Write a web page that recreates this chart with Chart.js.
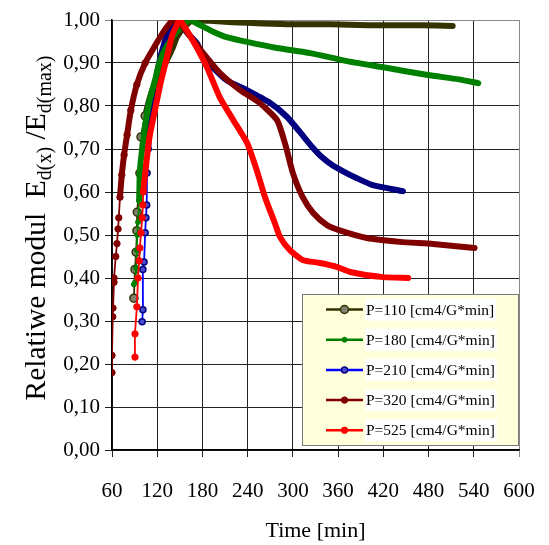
<!DOCTYPE html>
<html>
<head>
<meta charset="utf-8">
<script src="https://cdn.jsdelivr.net/npm/chart.js@4.4.0/dist/chart.umd.min.js"></script>
<style>
  html, body { margin: 0; padding: 0; background: #fff; }
  #chart { display: block; }
</style>
</head>
<body>
<canvas id="chart" width="549" height="545"></canvas>
<script>
// data (time in min, relative modulus)
const seriesLabels = ["P=110 [cm4/G*min]", "P=180 [cm4/G*min]", "P=210 [cm4/G*min]", "P=320 [cm4/G*min]", "P=525 [cm4/G*min]"];

const time110 = [89, 90.5, 92, 93, 93.5, 97, 98.5, 104, 112, 122, 133, 141, 146, 154, 167, 190, 220, 260, 300, 350, 400, 450, 490, 512];
const val110 = [0.353, 0.42, 0.46, 0.51, 0.553, 0.644, 0.728, 0.777, 0.83, 0.87, 0.907, 0.937, 0.96, 0.98, 1.0, 0.998, 0.995, 0.992, 0.99, 0.99, 0.988, 0.988, 0.987, 0.986];

const time180 = [89, 90.5, 92, 93, 93.5, 94.5, 96, 97, 100, 105, 110, 117, 124, 133, 148, 163, 175, 195, 212, 239, 279, 323, 370, 420, 479, 520, 546];
const val180 = [0.385, 0.39, 0.423, 0.465, 0.50, 0.53, 0.58, 0.65, 0.70, 0.767, 0.814, 0.86, 0.907, 0.94, 0.977, 1.0, 0.99, 0.972, 0.96, 0.949, 0.935, 0.923, 0.905, 0.89, 0.872, 0.862, 0.853];

const time210 = [100, 101, 101, 102.5, 104, 105, 106, 106.5, 108, 110, 120, 130, 140, 147, 160, 173, 181, 212, 239, 270, 292, 310, 325, 338, 352, 368, 385, 406, 446];
const val210 = [0.298, 0.326, 0.42, 0.437, 0.505, 0.54, 0.57, 0.644, 0.70, 0.767, 0.88, 0.95, 0.99, 1.0, 0.97, 0.945, 0.914, 0.86, 0.837, 0.807, 0.775, 0.738, 0.706, 0.682, 0.663, 0.647, 0.632, 0.616, 0.602];

const time320 = [60, 60, 61, 61.3, 62.7, 62.7, 65, 66.6, 68, 69, 70.6, 73, 76, 80, 85, 93, 104, 117, 130, 140, 147, 160, 181, 203, 230, 256, 279, 290, 300, 313, 327, 345, 360, 398, 442, 486, 541];
const val320 = [0.18, 0.22, 0.31, 0.33, 0.39, 0.40, 0.45, 0.48, 0.514, 0.54, 0.588, 0.64, 0.686, 0.733, 0.79, 0.85, 0.90, 0.94, 0.977, 0.998, 1.0, 0.97, 0.923, 0.877, 0.837, 0.807, 0.767, 0.71, 0.644, 0.588, 0.551, 0.523, 0.512, 0.493, 0.484, 0.479, 0.47];

const time525 = [90.5, 90.5, 93, 94.5, 96, 97, 98.5, 100, 101, 101.5, 106, 110, 117, 124, 132, 140, 148, 150, 167, 186, 203, 221, 239, 252, 263, 276, 283, 296, 313, 336, 358, 376, 420, 453];
const val525 = [0.216, 0.27, 0.333, 0.40, 0.44, 0.47, 0.505, 0.54, 0.57, 0.6, 0.674, 0.73, 0.79, 0.85, 0.907, 0.965, 0.995, 1.0, 0.953, 0.89, 0.82, 0.767, 0.715, 0.651, 0.588, 0.528, 0.495, 0.465, 0.442, 0.435, 0.426, 0.414, 0.402, 0.40];

const timeTicks = [60, 120, 180, 240, 300, 360, 420, 480, 540, 600];

const serif = "'Liberation Serif', 'Times New Roman', serif";

// one line series: thin line + markers at the sparse start, thick line after
function makeSeries(label, xs, ys, st) {
  return {
    label: label,
    data: xs.map((x, i) => ({ x: x, y: ys[i] })),
    borderColor: st.line,
    backgroundColor: st.fill,
    pointBackgroundColor: st.fill,
    pointBorderColor: st.edge,
    pointBorderWidth: st.edgeW,
    pointRadius: (c) => (c.dataIndex < st.markUntil ? st.r : 0),
    pointHoverRadius: 0,
    borderCapStyle: "round",
    borderJoinStyle: "round",
    tension: 0.2,
    order: st.order,
    mark: st,
    segment: {
      borderWidth: (c) => (c.p1DataIndex <= st.thinUntil ? 1.8 : 6),
      borderColor: (c) => (c.p1DataIndex <= st.thinUntil ? st.line : st.thick),
    },
  };
}

const datasets = [
  makeSeries(seriesLabels[0], time110, val110, { line: "#333300", thick: "#333300", fill: "#808070", edge: "#333300", edgeW: 1.5, r: 4, thinUntil: 7, markUntil: 8, order: 3 }),
  makeSeries(seriesLabels[1], time180, val180, { line: "#008000", thick: "#008000", fill: "#008000", edge: "#008000", edgeW: 1, r: 2.5, thinUntil: 6, markUntil: 7, order: 2 }),
  makeSeries(seriesLabels[2], time210, val210, { line: "#0000ff", thick: "#000080", fill: "#4b4bd0", edge: "#000080", edgeW: 1.5, r: 3, thinUntil: 8, markUntil: 9, order: 4 }),
  makeSeries(seriesLabels[3], time320, val320, { line: "#800000", thick: "#800000", fill: "#800000", edge: "#800000", edgeW: 1, r: 3.2, thinUntil: 10, markUntil: 17, order: 1 }),
  makeSeries(seriesLabels[4], time525, val525, { line: "#ff0000", thick: "#ff0000", fill: "#ff0000", edge: "#ff0000", edgeW: 1, r: 3.2, thinUntil: 9, markUntil: 10, order: 0 }),
];

// rotated y title with subscripts
const yTitle = {
  id: "yTitle",
  afterDraw(chart) {
    const c = chart.ctx;
    const parts = [
      ["Relatiwe modul  ", 0],
      ["E", 0], ["d(x)", 1],
      [" /E", 0], ["d(max)", 1],
    ];
    const big = "29.5px " + serif, small = "20px " + serif;
    let total = 0;
    const widths = parts.map((p) => {
      c.font = p[1] ? small : big;
      const w = c.measureText(p[0]).width;
      total += w;
      return w;
    });
    c.save();
    c.translate(45, 228);
    c.rotate(-Math.PI / 2);
    c.fillStyle = "#000";
    c.textBaseline = "alphabetic";
    c.textAlign = "left";
    let x = -total / 2;
    parts.forEach((p, i) => {
      c.font = p[1] ? small : big;
      c.fillText(p[0], x, p[1] ? 6 : 0);
      x += widths[i];
    });
    c.restore();
  },
};

// boxed legend inside the plot, line + marker per row
const boxLegend = {
  id: "boxLegend",
  afterDraw(chart) {
    const c = chart.ctx;
    c.save();
    c.fillStyle = "#ffffdc";
    c.fillRect(302, 294, 216, 151);
    c.strokeStyle = "#7a7a7a";
    c.lineWidth = 1;
    c.strokeRect(302.5, 294.5, 216, 151);
    c.font = "15.5px " + serif;
    c.textBaseline = "middle";
    chart.data.datasets.forEach((ds, i) => {
      const st = ds.mark;
      const y = 309.5 + i * 30.2;
      const tw = c.measureText(ds.label).width;
      c.fillStyle = "#fff";
      c.fillRect(365, y - 11, tw + 3, 22);
      c.strokeStyle = st.line;
      c.lineWidth = 2.5;
      c.beginPath();
      c.moveTo(326, y);
      c.lineTo(363, y);
      c.stroke();
      c.beginPath();
      c.arc(344.5, y, st.r, 0, Math.PI * 2);
      c.fillStyle = st.fill;
      c.fill();
      c.lineWidth = st.edgeW;
      c.strokeStyle = st.edge;
      c.stroke();
      c.fillStyle = "#000";
      c.fillText(ds.label, 366, y + 1);
    });
    c.restore();
  },
};

new Chart(document.getElementById("chart"), {
  type: "line",
  data: { datasets: datasets },
  options: {
    responsive: false,
    animation: false,
    devicePixelRatio: 1,
    layout: { padding: { top: 20, right: 30, left: 0, bottom: 0 } },
    plugins: { legend: { display: false }, tooltip: { enabled: false } },
    scales: {
      x: {
        type: "linear",
        min: 60,
        max: 600,
        afterBuildTicks: (s) => { s.ticks = timeTicks.map((v) => ({ value: v })); },
        afterFit: (s) => { s.height = 95; s.paddingLeft = 0; s.paddingRight = 0; },
        ticks: { color: "#000", font: { family: serif, size: 21 }, padding: 22, maxRotation: 0 },
        grid: {
          color: (c) => (c.tick && c.tick.value === 600 ? "#888" : "#222"),
          lineWidth: 1,
          tickLength: 7,
        },
        border: { color: "#000", width: 1.5 },
        title: {
          display: true,
          text: "Time [min]",
          color: "#000",
          font: { family: serif, size: 22 },
          padding: { top: 0, bottom: 1 },
        },
      },
      y: {
        min: 0,
        max: 1,
        afterFit: (s) => { s.width = 112; },
        ticks: {
          stepSize: 0.1,
          color: "#000",
          font: { family: serif, size: 21 },
          padding: 5,
          callback: (v) => v.toFixed(2).replace(".", ","),
        },
        grid: {
          color: (c) => (c.tick && c.tick.value >= 0.999 ? "#888" : "#222"),
          lineWidth: 1,
          tickLength: 7,
        },
        border: { color: "#000", width: 1.5 },
      },
    },
  },
  plugins: [yTitle, boxLegend],
});
</script>
</body>
</html>
